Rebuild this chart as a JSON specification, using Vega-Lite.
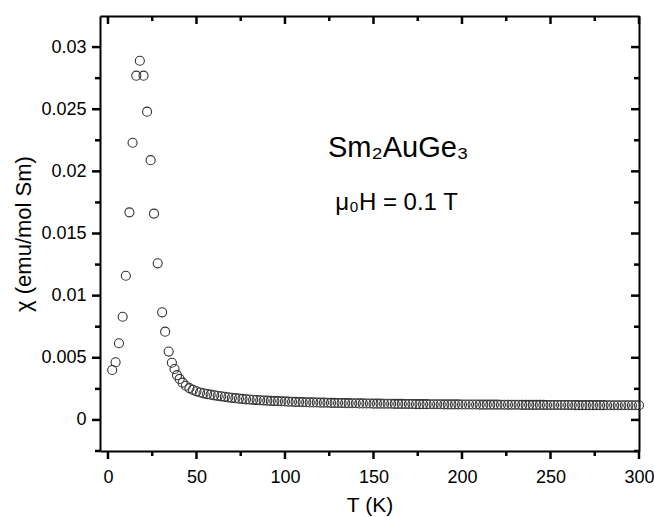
{
  "$schema": "https://vega.github.io/schema/vega-lite/v6.json",
  "width": 539,
  "height": 435,
  "autosize": {"type": "none"},
  "padding": {"left": 100, "top": 16, "right": 15, "bottom": 66},
  "background": "white",
  "config": {
    "view": {"stroke": null},
    "font": "Liberation Sans",
    "axis": {"grid": false, "tickOpacity": 0, "domainColor": "#000000", "domainWidth": 2, "labelColor": "#000000", "titleColor": "#000000"}
  },
  "resolve": {"axis": {"x": "independent", "y": "independent"}},
  "datasets": {
    "chi": [
      {"T": 2.4, "chi": 0.00402}, {"T": 4.3, "chi": 0.00464}, {"T": 6.2, "chi": 0.00617}, {"T": 8.3, "chi": 0.0083},
      {"T": 10.1, "chi": 0.0116}, {"T": 12.1, "chi": 0.0167}, {"T": 13.9, "chi": 0.0223}, {"T": 16.0, "chi": 0.0277},
      {"T": 18.0, "chi": 0.0289}, {"T": 20.1, "chi": 0.0277}, {"T": 22.1, "chi": 0.0248}, {"T": 24.1, "chi": 0.0209},
      {"T": 26.0, "chi": 0.0166}, {"T": 28.1, "chi": 0.0126}, {"T": 30.6, "chi": 0.00866}, {"T": 32.3, "chi": 0.0071},
      {"T": 34.3, "chi": 0.0055}, {"T": 36.1, "chi": 0.0046}, {"T": 37.6, "chi": 0.0041}, {"T": 39.0, "chi": 0.0036},
      {"T": 40.5, "chi": 0.0033}, {"T": 42.2, "chi": 0.003}, {"T": 44.0, "chi": 0.00275}, {"T": 46.0, "chi": 0.00256},
      {"T": 48.0, "chi": 0.00242}, {"T": 50, "chi": 0.0023}, {"T": 52, "chi": 0.00221}, {"T": 54, "chi": 0.00214},
      {"T": 56, "chi": 0.00208}, {"T": 58, "chi": 0.00203}, {"T": 60, "chi": 0.00198}, {"T": 62, "chi": 0.00194},
      {"T": 64, "chi": 0.0019}, {"T": 66, "chi": 0.00186}, {"T": 68, "chi": 0.00182}, {"T": 70, "chi": 0.00178},
      {"T": 72, "chi": 0.00175}, {"T": 74, "chi": 0.00172}, {"T": 76, "chi": 0.00169}, {"T": 78, "chi": 0.00166},
      {"T": 80, "chi": 0.00164}, {"T": 82, "chi": 0.00162}, {"T": 84, "chi": 0.0016}, {"T": 86, "chi": 0.00158},
      {"T": 88, "chi": 0.00156}, {"T": 90, "chi": 0.00155}, {"T": 92, "chi": 0.00153}, {"T": 94, "chi": 0.00152},
      {"T": 96, "chi": 0.00151}, {"T": 98, "chi": 0.0015}, {"T": 100, "chi": 0.00149}, {"T": 102, "chi": 0.00147},
      {"T": 104, "chi": 0.00146}, {"T": 106, "chi": 0.00145}, {"T": 108, "chi": 0.00144}, {"T": 110, "chi": 0.00143},
      {"T": 112, "chi": 0.00142}, {"T": 114, "chi": 0.00141}, {"T": 116, "chi": 0.00141}, {"T": 118, "chi": 0.0014},
      {"T": 120, "chi": 0.00139}, {"T": 122, "chi": 0.00139}, {"T": 124, "chi": 0.00138}, {"T": 126, "chi": 0.00137},
      {"T": 128, "chi": 0.00137}, {"T": 130, "chi": 0.00136}, {"T": 132, "chi": 0.00136}, {"T": 134, "chi": 0.00135},
      {"T": 136, "chi": 0.00135}, {"T": 138, "chi": 0.00134}, {"T": 140, "chi": 0.00134}, {"T": 142, "chi": 0.00133},
      {"T": 144, "chi": 0.00133}, {"T": 146, "chi": 0.00132}, {"T": 148, "chi": 0.00132}, {"T": 150, "chi": 0.00131},
      {"T": 152, "chi": 0.00131}, {"T": 154, "chi": 0.00131}, {"T": 156, "chi": 0.0013}, {"T": 158, "chi": 0.0013},
      {"T": 160, "chi": 0.0013}, {"T": 162, "chi": 0.00129}, {"T": 164, "chi": 0.00129}, {"T": 166, "chi": 0.00129},
      {"T": 168, "chi": 0.00128}, {"T": 170, "chi": 0.00128}, {"T": 172, "chi": 0.00128}, {"T": 174, "chi": 0.00127},
      {"T": 176, "chi": 0.00127}, {"T": 178, "chi": 0.00127}, {"T": 180, "chi": 0.00127}, {"T": 182, "chi": 0.00126},
      {"T": 184, "chi": 0.00126}, {"T": 186, "chi": 0.00126}, {"T": 188, "chi": 0.00126}, {"T": 190, "chi": 0.00125},
      {"T": 192, "chi": 0.00125}, {"T": 194, "chi": 0.00125}, {"T": 196, "chi": 0.00125}, {"T": 198, "chi": 0.00125},
      {"T": 200, "chi": 0.00124}, {"T": 202, "chi": 0.00124}, {"T": 204, "chi": 0.00124}, {"T": 206, "chi": 0.00124},
      {"T": 208, "chi": 0.00124}, {"T": 210, "chi": 0.00123}, {"T": 212, "chi": 0.00123}, {"T": 214, "chi": 0.00123},
      {"T": 216, "chi": 0.00123}, {"T": 218, "chi": 0.00123}, {"T": 220, "chi": 0.00123}, {"T": 222, "chi": 0.00122},
      {"T": 224, "chi": 0.00122}, {"T": 226, "chi": 0.00122}, {"T": 228, "chi": 0.00122}, {"T": 230, "chi": 0.00122},
      {"T": 232, "chi": 0.00122}, {"T": 234, "chi": 0.00121}, {"T": 236, "chi": 0.00121}, {"T": 238, "chi": 0.00121},
      {"T": 240, "chi": 0.00121}, {"T": 242, "chi": 0.00121}, {"T": 244, "chi": 0.00121}, {"T": 246, "chi": 0.00121},
      {"T": 248, "chi": 0.0012}, {"T": 250, "chi": 0.0012}, {"T": 252, "chi": 0.0012}, {"T": 254, "chi": 0.0012},
      {"T": 256, "chi": 0.0012}, {"T": 258, "chi": 0.0012}, {"T": 260, "chi": 0.0012}, {"T": 262, "chi": 0.0012},
      {"T": 264, "chi": 0.00119}, {"T": 266, "chi": 0.00119}, {"T": 268, "chi": 0.00119}, {"T": 270, "chi": 0.00119},
      {"T": 272, "chi": 0.00119}, {"T": 274, "chi": 0.00119}, {"T": 276, "chi": 0.00119}, {"T": 278, "chi": 0.00119},
      {"T": 280, "chi": 0.00119}, {"T": 282, "chi": 0.00118}, {"T": 284, "chi": 0.00118}, {"T": 286, "chi": 0.00118},
      {"T": 288, "chi": 0.00118}, {"T": 290, "chi": 0.00118}, {"T": 292, "chi": 0.00118}, {"T": 294, "chi": 0.00118},
      {"T": 296, "chi": 0.00118}, {"T": 298, "chi": 0.00118}, {"T": 300, "chi": 0.00118}
    ],
    "notes": [
      {"T": 164, "chi": 0.02115, "line": 1, "label": "Sm₂AuGe₃"},
      {"T": 163, "chi": 0.01689, "line": 2, "label": "μ₀H = 0.1 T"}
    ],
    "xticks": [
      {"v": 0, "major": 1}, {"v": 25, "major": 0}, {"v": 50, "major": 1}, {"v": 75, "major": 0},
      {"v": 100, "major": 1}, {"v": 125, "major": 0}, {"v": 150, "major": 1}, {"v": 175, "major": 0},
      {"v": 200, "major": 1}, {"v": 225, "major": 0}, {"v": 250, "major": 1}, {"v": 275, "major": 0},
      {"v": 300, "major": 1}
    ],
    "yticks": [
      {"v": -0.0025, "major": 0}, {"v": 0, "major": 1}, {"v": 0.0025, "major": 0}, {"v": 0.005, "major": 1},
      {"v": 0.0075, "major": 0}, {"v": 0.01, "major": 1}, {"v": 0.0125, "major": 0}, {"v": 0.015, "major": 1},
      {"v": 0.0175, "major": 0}, {"v": 0.02, "major": 1}, {"v": 0.0225, "major": 0}, {"v": 0.025, "major": 1},
      {"v": 0.0275, "major": 0}, {"v": 0.03, "major": 1}
    ]
  },
  "layer": [
    {
      "data": {"name": "chi"},
      "mark": {"type": "point", "shape": "circle", "filled": false, "stroke": "#333333", "strokeWidth": 1.1, "size": 82, "opacity": 1},
      "encoding": {
        "x": {
          "field": "T", "type": "quantitative",
          "scale": {"domain": [-4.5, 300], "nice": false, "zero": false},
          "axis": {
            "orient": "bottom",
            "values": [0, 50, 100, 150, 200, 250, 300],
            "tickSize": 7,
            "labelFont": "Liberation Sans", "labelFontSize": 18, "labelPadding": 10, "labelFlush": false,
            "title": "T (K)", "titleFont": "Liberation Sans", "titleFontSize": 21, "titleFontWeight": "normal", "titlePadding": 8
          }
        },
        "y": {
          "field": "chi", "type": "quantitative",
          "scale": {"domain": [-0.0025, 0.0325], "nice": false, "zero": false},
          "axis": {
            "orient": "left",
            "values": [0, 0.005, 0.01, 0.015, 0.02, 0.025, 0.03],
            "labelExpr": "datum.value === 0 ? '0' : format(datum.value, '~g')",
            "tickSize": 7,
            "labelFont": "Liberation Sans", "labelFontSize": 18, "labelPadding": 7, "labelFlush": false,
            "title": "χ (emu/mol Sm)", "titleFont": "Liberation Sans", "titleFontSize": 22, "titleFontWeight": "normal", "titlePadding": 5
          }
        }
      }
    },
    {
      "data": {"name": "notes"},
      "transform": [{"filter": "datum.line === 1"}],
      "mark": {"type": "text", "font": "Liberation Sans", "fontSize": 29, "color": "black", "align": "center", "baseline": "alphabetic"},
      "encoding": {
        "x": {"field": "T", "type": "quantitative", "axis": {"orient": "top", "labels": false, "title": null, "values": [0, 300], "tickSize": 0}},
        "y": {"field": "chi", "type": "quantitative", "axis": {"orient": "right", "labels": false, "title": null, "values": [0], "tickSize": 0}},
        "text": {"field": "label"}
      }
    },
    {
      "data": {"name": "notes"},
      "transform": [{"filter": "datum.line === 2"}],
      "mark": {"type": "text", "font": "Liberation Sans", "fontSize": 24, "color": "black", "align": "center", "baseline": "alphabetic"},
      "encoding": {
        "x": {"field": "T", "type": "quantitative", "axis": null},
        "y": {"field": "chi", "type": "quantitative", "axis": null},
        "text": {"field": "label"}
      }
    },
    {
      "data": {"name": "xticks"},
      "transform": [{"filter": "datum.major === 1"}],
      "mark": {"type": "rule", "color": "#000000", "strokeWidth": 2.5},
      "encoding": {
        "x": {"field": "v", "type": "quantitative", "axis": null},
        "y": {"datum": -0.0025, "type": "quantitative", "axis": null},
        "y2": {"datum": -0.003144}
      }
    },
    {
      "data": {"name": "xticks"},
      "transform": [{"filter": "datum.major === 0"}],
      "mark": {"type": "rule", "color": "#000000", "strokeWidth": 2.5},
      "encoding": {
        "x": {"field": "v", "type": "quantitative", "axis": null},
        "y": {"datum": -0.0025, "type": "quantitative", "axis": null},
        "y2": {"datum": -0.002902}
      }
    },
    {
      "data": {"name": "xticks"},
      "transform": [{"filter": "datum.major === 1"}],
      "mark": {"type": "rule", "color": "#000000", "strokeWidth": 2.5},
      "encoding": {
        "x": {"field": "v", "type": "quantitative", "axis": null},
        "y": {"datum": 0.0325, "type": "quantitative", "axis": null},
        "y2": {"datum": 0.031856}
      }
    },
    {
      "data": {"name": "xticks"},
      "transform": [{"filter": "datum.major === 0"}],
      "mark": {"type": "rule", "color": "#000000", "strokeWidth": 2.5},
      "encoding": {
        "x": {"field": "v", "type": "quantitative", "axis": null},
        "y": {"datum": 0.0325, "type": "quantitative", "axis": null},
        "y2": {"datum": 0.032098}
      }
    },
    {
      "data": {"name": "yticks"},
      "transform": [{"filter": "datum.major === 1"}],
      "mark": {"type": "rule", "color": "#000000", "strokeWidth": 2.5},
      "encoding": {
        "y": {"field": "v", "type": "quantitative", "axis": null},
        "x": {"datum": -4.5, "type": "quantitative", "axis": null},
        "x2": {"datum": -9.02}
      }
    },
    {
      "data": {"name": "yticks"},
      "transform": [{"filter": "datum.major === 0"}],
      "mark": {"type": "rule", "color": "#000000", "strokeWidth": 2.5},
      "encoding": {
        "y": {"field": "v", "type": "quantitative", "axis": null},
        "x": {"datum": -4.5, "type": "quantitative", "axis": null},
        "x2": {"datum": -7.325}
      }
    },
    {
      "data": {"name": "yticks"},
      "transform": [{"filter": "datum.major === 1"}],
      "mark": {"type": "rule", "color": "#000000", "strokeWidth": 2.5},
      "encoding": {
        "y": {"field": "v", "type": "quantitative", "axis": null},
        "x": {"datum": 300, "type": "quantitative", "axis": null},
        "x2": {"datum": 295.48}
      }
    },
    {
      "data": {"name": "yticks"},
      "transform": [{"filter": "datum.major === 0"}],
      "mark": {"type": "rule", "color": "#000000", "strokeWidth": 2.5},
      "encoding": {
        "y": {"field": "v", "type": "quantitative", "axis": null},
        "x": {"datum": 300, "type": "quantitative", "axis": null},
        "x2": {"datum": 297.175}
      }
    }
  ]
}
